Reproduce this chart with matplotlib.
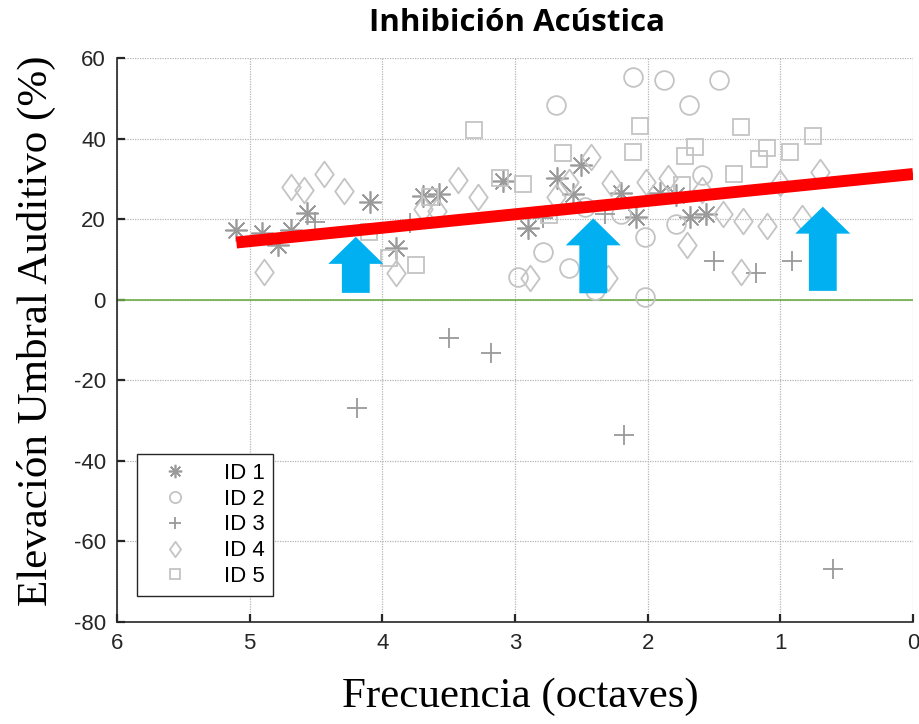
import matplotlib
matplotlib.use("Agg")
import matplotlib.pyplot as plt
from matplotlib.path import Path
from matplotlib.patches import FancyArrow
import numpy as np

plt.rcParams["axes.unicode_minus"] = False

# ---------------- data ----------------
id1_x = [5.10, 4.91, 4.79, 4.69, 4.57, 4.09, 3.90, 3.69, 3.57, 3.09, 2.90, 2.68, 2.56, 2.50, 2.20, 2.09, 1.91, 1.79, 1.68, 1.56]
id1_y = [17.3, 16.6, 13.6, 17.3, 21.6, 24.3, 12.9, 25.7, 26.2, 29.5, 17.9, 30.1, 26.2, 33.4, 26.6, 20.6, 26.4, 26.0, 20.6, 21.4]

id2_x = [2.11, 2.69, 1.88, 1.46, 1.69, 2.79, 2.98, 2.59, 2.47, 2.20, 2.40, 2.02, 2.02, 1.59, 1.79]
id2_y = [55.3, 48.3, 54.5, 54.5, 48.3, 11.8, 5.7, 7.8, 23.1, 21.4, 2.4, 15.6, 0.7, 31.0, 18.8]

id3_x = [4.51, 3.79, 2.79, 2.32, 1.50, 1.18, 0.91, 3.50, 3.18, 4.19, 2.18, 0.60]
id3_y = [19.4, 19.0, 20.2, 21.4, 9.6, 6.7, 9.6, -9.4, -13.3, -26.8, -33.6, -66.8]

id4_x = [4.89, 4.69, 4.59, 4.44, 4.29, 3.90, 3.69, 3.59, 3.43, 3.28, 2.89, 2.69, 2.59, 2.43, 2.28, 2.30, 2.01, 1.85, 1.59, 1.70, 1.43, 1.28, 1.30, 1.10, 1.00, 0.84, 0.70]
id4_y = [6.8, 27.9, 27.2, 31.1, 27.0, 6.6, 22.4, 22.0, 29.7, 25.6, 5.5, 25.6, 29.3, 35.5, 28.9, 5.3, 29.3, 30.1, 27.2, 13.6, 21.4, 19.6, 7.0, 18.4, 28.9, 20.2, 31.8]

id5_x = [4.10, 3.95, 3.75, 3.64, 3.31, 3.11, 2.94, 2.74, 2.64, 2.11, 2.06, 1.74, 1.72, 1.64, 1.35, 1.30, 1.16, 1.10, 0.93, 0.75]
id5_y = [16.9, 10.3, 8.6, 25.6, 42.1, 30.3, 28.6, 21.0, 36.5, 36.7, 43.1, 28.5, 35.7, 38.0, 31.1, 42.9, 34.9, 37.6, 36.7, 40.7]

series_labels = ["ID 1", "ID 2", "ID 3", "ID 4", "ID 5"]

fit_x = [5.1, 0.0]
fit_y = [14.2, 31.2]

arrow_x = [4.20, 2.41, 0.68]
arrow_base = [1.7, 1.6, 2.2]
arrow_tip = [15.6, 20.2, 23.1]

x_ticks = [6, 5, 4, 3, 2, 1, 0]
y_ticks = [-80, -60, -40, -20, 0, 20, 40, 60]

# ---------------- figure ----------------
fig = plt.figure(figsize=(9.2, 7.24), dpi=100)
ax = fig.add_axes([117/920, 1-622/724, (913-117)/920, (622-58)/724])

dark = "#9a9a9a"
light = "#c4c4c4"
diamond = Path([(0, 1), (0.72, 0), (0, -1), (-0.72, 0), (0, 1)],
               [Path.MOVETO, Path.LINETO, Path.LINETO, Path.LINETO, Path.CLOSEPOLY])

styles = [
    dict(marker=(8, 2, 0), ms=16, mec=dark, mfc="none", mew=1.2),
    dict(marker="o", ms=13.5, mec=light, mfc="none", mew=1.3),
    dict(marker="+", ms=15, mec=dark, mfc="none", mew=1.3),
    dict(marker=diamond, ms=18.5, mec=light, mfc="none", mew=1.3),
    dict(marker="s", ms=11, mec=light, mfc="none", mew=1.3),
]
data = [(id1_x, id1_y), (id2_x, id2_y), (id3_x, id3_y), (id4_x, id4_y), (id5_x, id5_y)]
handles = []
for (xs, ys), st, lab in zip(data, styles, series_labels):
    h, = ax.plot(xs, ys, ls="none", label=lab, zorder=3, **st)
    handles.append(h)

ax.axhline(0, color="#70ad47", lw=1.2, zorder=2)
ax.plot(fit_x, fit_y, color="#ff0000", lw=8.6, solid_capstyle="butt", zorder=5)

for xa, yb, yt in zip(arrow_x, arrow_base, arrow_tip):
    ar = FancyArrow(xa, yb, 0, yt - yb, width=0.21, head_width=0.415,
                    head_length=6.7, length_includes_head=True,
                    color="#00b0f0", lw=0, zorder=4)
    ax.add_patch(ar)

ax.set_xlim(6, 0)
ax.set_ylim(-80, 60)
ax.set_xticks(x_ticks)
ax.set_yticks(y_ticks)
ax.grid(True, color="#b5b5b5", ls=(0, (1, 1)), lw=0.9)
ax.set_axisbelow(True)
for s in ["top", "right"]:
    ax.spines[s].set_visible(False)
for s in ["left", "bottom"]:
    ax.spines[s].set_color("#262626")
    ax.spines[s].set_linewidth(1.2)
ax.tick_params(direction="in", length=6, width=1.6, color="#262626",
               labelsize=16, labelcolor="#262626")
ax.tick_params(axis="x", pad=8)
ax.tick_params(axis="y", pad=8)
for lab in ax.get_xticklabels() + ax.get_yticklabels():
    lab.set_fontfamily("Liberation Sans")

leg = ax.legend(handles=handles, loc="lower left", bbox_to_anchor=(0.025, 0.046),
                borderaxespad=0, markerscale=0.6, frameon=True, fancybox=False,
                edgecolor="#262626", framealpha=1,
                prop=dict(family="Liberation Sans", size=16),
                handlelength=2.6, handletextpad=0.9, labelspacing=0.22,
                borderpad=0.4)
leg.get_frame().set_linewidth(1.0)

fig.text(517/920, 1 - 23/724, "Inhibición Acústica",
         ha="center", va="center", fontsize=22.5, fontweight="bold",
         family="Open Sans")
fig.text(36/920, 1 - 331/724, "Elevación Umbral Auditivo (%)", rotation=90,
         ha="center", va="center", fontsize=31, family="Liberation Serif")
fig.text(520/920, 1 - 697/724, "Frecuencia (octaves)", ha="center", va="center",
         fontsize=31, family="Liberation Serif")

fig.savefig("out.png", dpi=100)
